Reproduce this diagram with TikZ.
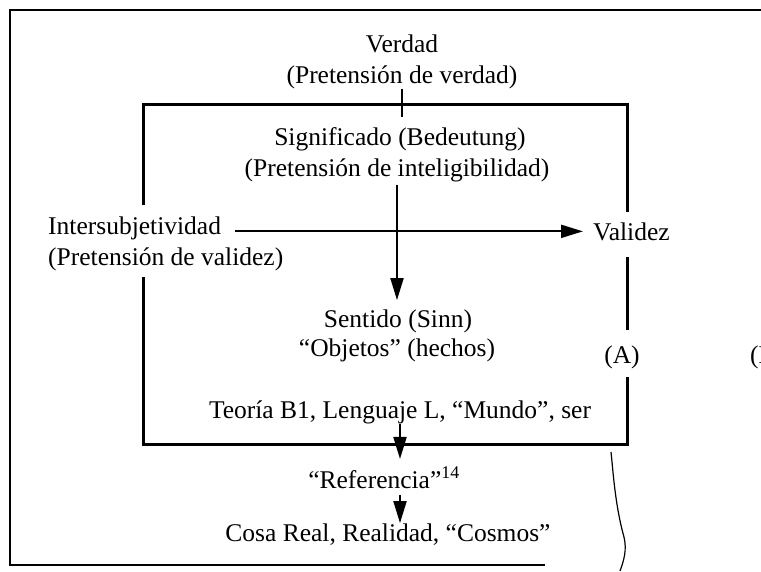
\documentclass[tikz,border=0pt]{standalone}
\usepackage{fontspec}
\setmainfont{Liberation Serif}
\usetikzlibrary{arrows.meta}
\begin{document}
\begin{tikzpicture}[x=1pt,y=-1pt,
  lbl/.style={inner sep=0pt, anchor=base, font=\fontsize{25.5}{30}\selectfont},
  outerline/.style={line width=2pt},
  innerbox/.style={line width=3pt},
  arr/.style={line width=2pt,-{Triangle[length=22pt,width=13pt]}},
  thinline/.style={line width=1.5pt}]
\useasboundingbox (0,0) rectangle (761,571);
\clip (0,0) rectangle (761,571);
% texts
\node[lbl] (verdad) at (402,52) {Verdad};
\node[lbl] (pv) at (402,83) {(Pretensión de verdad)};
\node[lbl] (sig) at (400,145) {Significado (Bedeutung)};
\node[lbl] (pi) at (397,176) {(Pretensión de inteligibilidad)};
\node[lbl,anchor=base west] (inter) at (48,234) {Intersubjetividad};
\node[lbl,anchor=base west] (pval) at (48,265) {(Pretensión de validez)};
\node[lbl,anchor=base west] (val) at (593,240) {Validez};
\node[lbl] (sent) at (398,327) {Sentido (Sinn)};
\node[lbl] (obj) at (397,356) {“Objetos” (hechos)};
\node[lbl] (A) at (622,363) {(A)};
\node[lbl,anchor=base west] (B) at (750,363) {(B)};
\node[lbl] (teo) at (400,418) {Teoría B1, Lenguaje L, “Mundo”, ser};
\node[lbl] (ref) at (384,488) {“Referencia”\textsuperscript{14}};
\node[lbl] (cosa) at (388,541) {Cosa Real, Realidad, “Cosmos”};
% outer frame
\draw[outerline] (761,10) -- (10,10) -- (10,565) -- (545,565);
% inner box with gaps
\draw[innerbox] (143,205) -- (143,104) -- (627,104) -- (627,212);
\draw[innerbox] (627,257) -- (627,330);
\draw[innerbox] (627,377) -- (627,444) -- (143,444) -- (143,277);
% tick
\coordinate (tickend) at (400,117);
\draw[thinline] (pv.south) -- (pv.south |- tickend);
% arrows
\draw[arr, shorten <=3pt, shorten >=9pt] (pi.south) -- (pi.south |- sent.north);
\draw[arr, shorten <=14pt, shorten >=10pt] (inter.east |- val.west) -- (val.west);
\draw[arr, shorten >=8pt] (teo.south) -- (teo.south |- ref.north);
\draw[arr, shorten <=7pt] (teo.south |- ref.south) -- (teo.south |- cosa.north);
% wavy side line
\draw[line width=1.2pt] (611,452) .. controls (613,470) and (615,505) .. (624,537) .. controls (627,550) and (624,560) .. (620,571);
\end{tikzpicture}
\end{document}
